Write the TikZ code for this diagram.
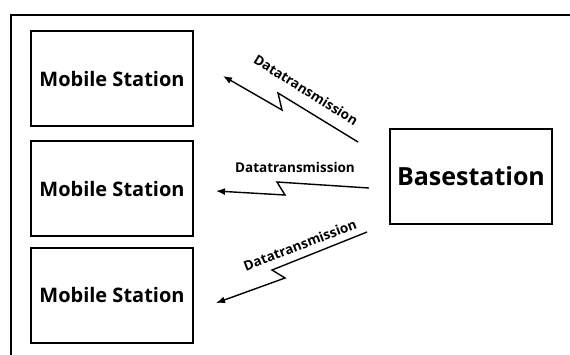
\documentclass[tikz,border=0pt]{standalone}
\usepackage{fontspec}
\setmainfont{Open Sans}
\usetikzlibrary{arrows.meta}
\begin{document}
\begin{tikzpicture}[x=1pt, y=-1pt, >={Latex[length=9pt,width=7pt]},
  station/.style={draw, line width=2pt, minimum width=162pt, minimum height=95pt,
  inner sep=0pt, font=\fontsize{20}{24}\selectfont\bfseries},
  funk/.style={line width=1.4pt, ->},
  label/.style={font=\fontsize{13.5}{16}\selectfont\bfseries, inner sep=0pt}]
\useasboundingbox (0,0) rectangle (570,354);
%Rahmen
\draw[line width=2pt] (11,15) rectangle (580,364);
%Stationen
\node[station] (ms1) at (112,78.5) {Mobile Station};
\node[station] (ms2) at (112,188.5) {Mobile Station};
\node[station] (ms3) at (112,295) {Mobile Station};
\node[station, font=\fontsize{25}{30}\selectfont\bfseries] (bs) at (471,176) {Basestation};
%Funkstrecken
\coordinate (a1) at (358,142);
\coordinate (b1) at (223,76);
\coordinate (a2) at (369,188);
\coordinate (b2) at (216,191);
\coordinate (a3) at (367,232);
\coordinate (b3) at (216,303);
\draw[funk] (a1) -- (278,93) -- (282,110) -- (b1);
\draw[funk] (a2) -- (277,182) -- (285,195) -- (b2);
\draw[funk] (a3) -- (272,270) -- (285,278) -- (b3);
%Beschriftung
\node[label, rotate=-32] (t1) at (306,90) {Datatransmission};
\node[label] (t2) at (295,167) {Datatransmission};
\node[label, rotate=21] (t3) at (300,245) {Datatransmission};
\end{tikzpicture}
\end{document}
